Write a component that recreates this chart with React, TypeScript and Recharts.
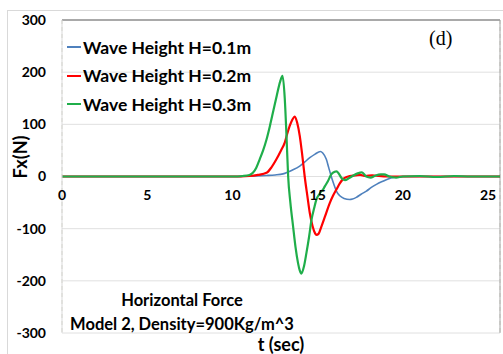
import {
  LineChart,
  Line,
  XAxis,
  YAxis,
  CartesianGrid,
  ReferenceLine,
  ReferenceDot,
} from "recharts";

// Horizontal force Fx (N) against time t (sec), one series per wave height
const h01Time = [0, 10, 11, 12, 12.5, 12.97, 13.5, 13.95, 14.25, 14.54, 14.85, 15.16, 15.3, 15.51, 15.65, 15.8, 15.95, 16.1, 16.3, 16.55, 16.88, 17.05, 17.27, 17.55, 17.86, 18.15, 18.45, 18.75, 19.03, 19.3, 19.6, 20, 21, 25.7];
const h01Force = [0, 0, 1, 2, 3, 5, 12, 20, 28, 36, 43, 48, 45, 33, 17, 0, -15, -28, -37, -42, -44, -43, -40, -34, -28, -21, -15, -10, -6, -3, -1, 0, 0, 0];

const h02Time = [0, 10, 11, 11.5, 12, 12.3, 12.58, 12.85, 13.07, 13.2, 13.36, 13.5, 13.66, 13.8, 13.95, 14.1, 14.24, 14.4, 14.54, 14.7, 14.85, 14.93, 15.05, 15.22, 15.45, 15.71, 15.9, 16.1, 16.3, 16.49, 16.7, 16.88, 17.2, 17.5, 17.8, 18.2, 18.6, 19, 20, 21, 25.7];
const h02Force = [0, 0, 1, 3, 7, 18, 33, 50, 65, 80, 97, 108, 115, 103, 78, 40, 0, -38, -70, -95, -109, -112, -110, -96, -75, -51, -37, -25, -13, -5, -1, 1, 2, 3, 1, 2, 1, 0, 0, 0, 0];

const h03Time = [0, 10, 10.6, 11, 11.2, 11.4, 11.6, 11.8, 12, 12.2, 12.4, 12.6, 12.8, 12.94, 13.07, 13.17, 13.27, 13.4, 13.56, 13.7, 13.85, 13.95, 14.05, 14.2, 14.34, 14.5, 14.64, 14.8, 14.93, 15.1, 15.22, 15.3, 15.42, 15.6, 15.8, 16, 16.1, 16.25, 16.4, 16.6, 16.85, 17.1, 17.35, 17.6, 17.85, 18.1, 18.4, 18.7, 18.9, 19.2, 19.6, 20, 21, 22, 23, 24, 25, 25.7];
const h03Force = [0, 0, 1, 3, 7, 17, 33, 50, 71, 97, 126, 155, 182, 193, 150, 80, 0, -50, -96, -135, -166, -180, -186, -172, -147, -115, -83, -60, -44, -34, -28, -26, -19, -9, 4, 9, 10, 5, -3, -7, -3, 2, 6, 8, 0, -2, 2, 4, 4, 0, -2, 0, 1, -1, 1, 0, 0, 0];

const xTicks = [0, 5, 10, 15, 20, 25];
const yTicks = [-300, -200, -100, 0, 100, 200, 300];
const xMax = 25.7;

const seriesNames = ["Wave Height H=0.1m", "Wave Height H=0.2m", "Wave Height H=0.3m"];
const seriesColors = ["#4f81bd", "#ff0000", "#1fae4a"];

const toRows = (ts: number[], fs: number[]) => ts.map((t, i) => ({ t, f: fs[i] }));

const font = "Lato, 'Open Sans', sans-serif";

export default function App() {
  const series = [
    toRows(h01Time, h01Force),
    toRows(h02Time, h02Force),
    toRows(h03Time, h03Force),
  ];

  return (
    <div style={{ position: "fixed", left: 0, top: 0, width: 503, height: 354, background: "#fff", overflow: "hidden", fontFamily: font }}>
      <div style={{ position: "absolute", left: 7, top: 10, width: 520, height: 370, border: "1px solid #d9d9d9" }} />
      <LineChart
        width={503}
        height={354}
        margin={{ top: 20, right: 3, bottom: 0, left: 0 }}
        style={{ position: "absolute", left: 0, top: 0 }}
      >
        {/* dashed verticals only; horizontals are drawn solid below */}
        <CartesianGrid horizontal={false} stroke="#d2d2c6" strokeDasharray="4 3" />
        <XAxis
          type="number"
          dataKey="t"
          domain={[0, xMax]}
          ticks={xTicks}
          tick={false}
          axisLine={false}
          tickLine={false}
          height={21}
          allowDataOverflow
        />
        <YAxis
          type="number"
          domain={[-300, 300]}
          ticks={yTicks}
          width={62}
          axisLine={{ stroke: "#d9d9d9" }}
          tickLine={false}
          tickMargin={10}
          tick={{ fill: "#000", fontSize: 14, fontWeight: 700, fontFamily: font }}
        />
        {yTicks.map((v) => (
          <ReferenceLine key={v} y={v} stroke={v === 300 ? "#8c8c8c" : "#e0e0e0"} strokeWidth={v === 300 ? 1.5 : 1} />
        ))}
        <ReferenceLine x={xMax} stroke="#a6a6a6" />
        {xTicks.map((v) => (
          <ReferenceDot
            key={v}
            x={v}
            y={0}
            r={0}
            fill="none"
            stroke="none"
            ifOverflow="visible"
            label={{ value: String(v), position: "bottom", offset: 14, fill: "#000", fontSize: 14, fontWeight: 700, fontFamily: font }}
          />
        ))}
        {series.map((rows, i) => (
          <Line
            key={seriesNames[i]}
            data={rows}
            dataKey="f"
            name={seriesNames[i]}
            type="monotone"
            stroke={seriesColors[i]}
            strokeWidth={i === 0 ? 1.6 : 2.2}
            dot={false}
            isAnimationActive={false}
          />
        ))}
      </LineChart>

      {/* legend */}
      <div style={{ position: "absolute", left: 67, top: 33 }}>
        {seriesNames.map((name, i) => (
          <div key={name} style={{ display: "flex", alignItems: "center", height: 28.5 }}>
            <div style={{ width: 14, height: 2, background: seriesColors[i], marginRight: 2 }} />
            <span style={{ fontSize: 17.5, fontWeight: 700, color: "#000", whiteSpace: "nowrap" }}>{name}</span>
          </div>
        ))}
      </div>

      <div style={{ position: "absolute", left: 429, top: 27, fontFamily: "'Liberation Serif', serif", fontSize: 20 }}>(d)</div>

      <div style={{ position: "absolute", left: -10, top: 145, width: 60, height: 24, lineHeight: "24px", textAlign: "center", transform: "rotate(-90deg)", fontSize: 18, fontWeight: 700 }}>Fx(N)</div>

      <div style={{ position: "absolute", left: 47, top: 288, width: 270, textAlign: "center", fontSize: 16.5, fontWeight: 700, lineHeight: "24px" }}>
        Horizontal Force
        <br />
        Model 2, Density=900Kg/m^3
      </div>

      <div style={{ position: "absolute", left: 231, top: 333, width: 100, textAlign: "center", fontSize: 18, fontWeight: 700, lineHeight: "22px" }}>t (sec)</div>
    </div>
  );
}
